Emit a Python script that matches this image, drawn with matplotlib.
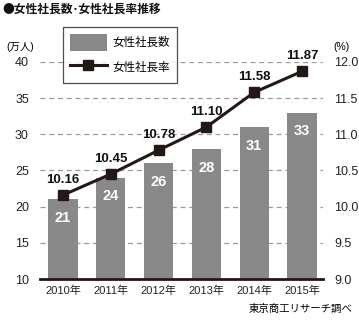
import matplotlib
matplotlib.use("Agg")
import matplotlib.pyplot as plt
from matplotlib.lines import Line2D
from matplotlib.patches import Patch

plt.rcParams['font.family'] = ['Liberation Sans', 'Noto Sans CJK JP', 'DejaVu Sans']

years = ['2010年', '2011年', '2012年', '2013年', '2014年', '2015年']
counts = [21, 24, 26, 28, 31, 33]          # 万人
rates = [10.16, 10.45, 10.78, 11.10, 11.58, 11.87]  # %
left_ticks = [10, 15, 20, 25, 30, 35, 40]
right_ticks = [9.0, 9.5, 10.0, 10.5, 11.0, 11.5, 12.0]

bar_color = '#898989'
line_color = '#231815'
grid_color = '#9a9a9a'

W, H = 359, 322
fig = plt.figure(figsize=(W / 100, H / 100), dpi=100)
ax = fig.add_axes([40 / W, 1 - 279 / H, (323 - 40) / W, (279 - 62) / H])
ax2 = ax.twinx()

x = list(range(len(years)))

ax.set_ylim(10, 40)
ax2.set_ylim(9.0, 12.0)
ax.set_xlim(-0.48, 5.44)

# dashed horizontal guides
for t in left_ticks[1:]:
    ax.axhline(t, color=grid_color, lw=0.9, ls=(0, (4, 3)), zorder=0)

ax.bar(x, [c - 10 for c in counts], bottom=10, width=0.61,
       color=bar_color, zorder=2)
for xi, c in zip(x, counts):
    ax.annotate(str(c), (xi, c), xytext=(0, -13.5), textcoords='offset points',
                ha='center', va='center', color='white', fontsize=10.5,
                fontweight='bold', zorder=3)

ax2.plot(x, rates, color=line_color, lw=2.2, marker='s', ms=7,
         markerfacecolor=line_color, markeredgecolor=line_color, zorder=4)
for xi, r in zip(x, rates):
    ax2.annotate(f'{r:.2f}', (xi, r), xytext=(0, 11), textcoords='offset points',
                 ha='center', va='center', color='#111111', fontsize=9.5,
                 fontweight='bold', zorder=5)

ax2.patch.set_visible(False)

ax.set_xticks(x)
ax.set_xticklabels(years, fontsize=8)
ax.set_yticks(left_ticks)
ax.set_yticklabels([str(t) for t in left_ticks], fontsize=9)
ax2.set_yticks(right_ticks)
ax2.set_yticklabels([f'{t:.1f}' for t in right_ticks], fontsize=9)

for a in (ax, ax2):
    for s in a.spines.values():
        s.set_visible(False)
    a.tick_params(length=0, colors='#222222')
ax.tick_params(axis='y', pad=8)
ax2.tick_params(axis='y', pad=8)
ax.tick_params(axis='x', pad=5)
ax.spines['bottom'].set_visible(True)
ax.spines['bottom'].set_linewidth(2)
ax.spines['bottom'].set_color(line_color)

handles = [Patch(facecolor=bar_color, edgecolor='none'),
           Line2D([0], [0], color=line_color, lw=2.2, marker='s', ms=7)]
leg = ax.legend(handles, ['女性社長数', '女性社長率'], loc='upper left',
                bbox_to_anchor=((57 - 40) / (323 - 40), 1 + (62 - 21) / (279 - 62)),
                fontsize=8.3, frameon=True, fancybox=False, edgecolor='#222222',
                handlelength=3.2, handleheight=1.9, labelspacing=0.7,
                borderpad=0.6, handletextpad=0.5)
leg.get_frame().set_linewidth(0.9)
leg.set_zorder(10)

fig.text(2 / W, 1 - 9 / H, '●女性社長数･女性社長率推移', fontsize=8.5,
         fontweight='bold', va='center', ha='left', color='#111111',
         family=['Noto Sans CJK JP', 'DejaVu Sans'])
fig.text(20 / W, 1 - 47 / H, '(万人)', fontsize=7.5, va='center', ha='center')
fig.text(341 / W, 1 - 47 / H, '(%)', fontsize=7.5, va='center', ha='center')
fig.text(352 / W, 1 - 309 / H, '東京商工リサーチ調べ', fontsize=7.5,
         va='center', ha='right')

fig.savefig('out.png', dpi=100)
